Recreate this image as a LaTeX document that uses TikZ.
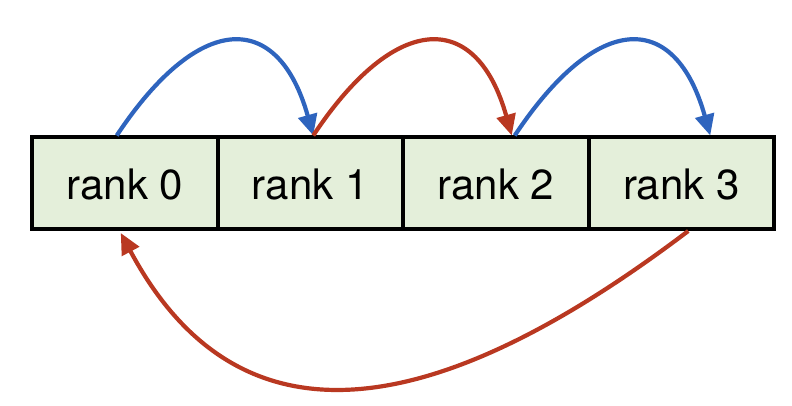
\documentclass[tikz,border=0pt]{standalone}
\usepackage{fontspec}
\setmainfont{TeX Gyre Heros}
\usetikzlibrary{arrows.meta}
\definecolor{cellfill}{HTML}{E4EFDA}
\definecolor{arcblue}{RGB}{46,100,190}
\definecolor{arcred}{RGB}{185,56,33}
\tikzset{
  cell/.style={draw=black, fill=cellfill, line width=4pt, minimum width=185.5pt,
    minimum height=91.5pt, inner sep=0pt, font=\fontsize{42}{50}\selectfont},
  celltext/.style={inner sep=0pt, font=\fontsize{42}{50}\selectfont},
  hop/.style={line width=4.2pt, -{Triangle[length=21pt,width=19pt]}},
  bluehop/.style={hop, draw=arcblue, arcblue},
  redhop/.style={hop, draw=arcred, arcred}
}
\begin{document}
\begin{tikzpicture}[x=1pt,y=-1pt]
\useasboundingbox (0,0) rectangle (792,406);
\node[cell] (r0) at (124.75,183.25) {};
\node[cell] (r1) at (310.25,183.25) {};
\node[cell] (r2) at (495.75,183.25) {};
\node[cell] (r3) at (681.25,183.25) {};
\node[celltext, anchor=base] (t0) at ([yshift=-16pt]r0.center) {rank 0};
\node[celltext, anchor=base] (t1) at ([yshift=-16pt]r1.center) {rank 1};
\node[celltext, anchor=base] (t2) at ([yshift=-16pt]r2.center) {rank 2};
\node[celltext, anchor=base] (t3) at ([yshift=-16pt]r3.center) {rank 3};
\draw[bluehop] ([xshift=-8pt]r0.north) .. controls +(83,-125) and +(-35,-125) .. ([xshift=3pt]r1.north);
\draw[redhop] ([xshift=3pt]r1.north) .. controls +(83,-125) and +(-35,-125) .. ([xshift=16pt]r2.north);
\draw[bluehop] ([xshift=19pt]r2.north) .. controls +(83,-125) and +(-35,-125) .. ([xshift=29pt]r3.north);
\draw[redhop] ([xshift=7pt]r3.south) .. controls +(-256,194) and +(117.5,220) .. ([xshift=-4pt,yshift=-2pt]r0.south);
\end{tikzpicture}
\end{document}
